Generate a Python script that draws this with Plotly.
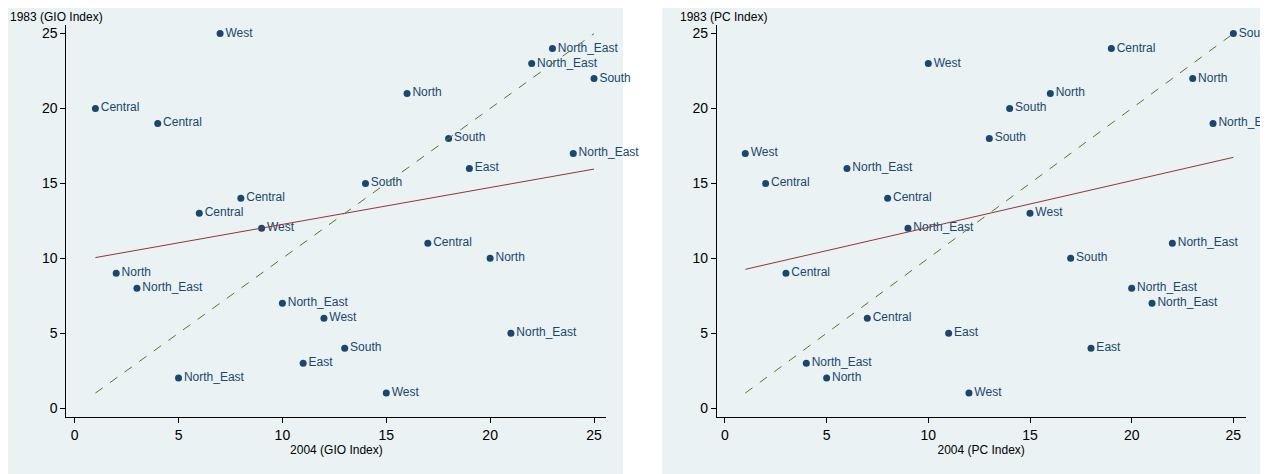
import numpy as np
import plotly.graph_objects as go
from plotly.subplots import make_subplots

# GIO index panel
gio_x = [7, 23, 22, 25, 16, 1, 4, 18, 24, 19, 14, 8, 6, 9, 17, 20, 2, 3, 10, 12, 21, 13, 11, 5, 15]
gio_y = [25, 24, 23, 22, 21, 20, 19, 18, 17, 16, 15, 14, 13, 12, 11, 10, 9, 8, 7, 6, 5, 4, 3, 2, 1]
gio_lab = ["West", "North_East", "North_East", "South", "North", "Central", "Central", "South",
           "North_East", "East", "South", "Central", "Central", "West", "Central", "North", "North",
           "North_East", "North_East", "West", "North_East", "South", "East", "North_East", "West"]

# PC index panel
pc_x = [25, 19, 10, 23, 16, 14, 24, 13, 1, 6, 2, 8, 15, 9, 22, 17, 3, 20, 21, 7, 11, 18, 4, 5, 12]
pc_y = [25, 24, 23, 22, 21, 20, 19, 18, 17, 16, 15, 14, 13, 12, 11, 10, 9, 8, 7, 6, 5, 4, 3, 2, 1]
pc_lab = ["South", "Central", "West", "North", "North", "South", "North_East", "South", "West",
          "North_East", "Central", "Central", "West", "North_East", "North_East", "South", "Central",
          "North_East", "North_East", "Central", "East", "East", "North_East", "North", "West"]

navy = "#1a476f"
fig = make_subplots(rows=1, cols=2)

for col, (x, y, lab, xt, yt) in enumerate([
        (gio_x, gio_y, gio_lab, "2004 (GIO Index)", "1983 (GIO Index)"),
        (pc_x, pc_y, pc_lab, "2004 (PC Index)", "1983 (PC Index)")], start=1):
    fig.add_trace(go.Scatter(x=x, y=y, mode="markers+text", text=lab, textposition="middle right",
                             textfont=dict(color=navy, size=12), cliponaxis=False,
                             marker=dict(color=navy, size=7)), row=1, col=col)
    b, a = np.polyfit(x, y, 1)
    fx = [min(x), max(x)]
    fig.add_trace(go.Scatter(x=fx, y=[a + b * v for v in fx], mode="lines",
                             line=dict(color="#90353b", width=1)), row=1, col=col)
    fig.add_trace(go.Scatter(x=fx, y=fx, mode="lines",
                             line=dict(color="#55752f", width=1, dash="dash")), row=1, col=col)
    ax = dict(showgrid=False, zeroline=False, showline=True, linecolor="black", ticks="outside",
              tickcolor="black", ticklen=5, tickfont=dict(size=14, color="black"),
              tickvals=[0, 5, 10, 15, 20, 25])
    fig.update_xaxes(range=[-0.4, 25.6], title=dict(text=xt, font=dict(size=12), standoff=2),
                     **ax, row=1, col=col)
    fig.update_yaxes(range=[-0.6, 25.6], **ax, row=1, col=col)
    fig.add_annotation(text=yt, xref="paper", yref="paper", x=[0.0, 0.528][col - 1], y=1.0,
                       xanchor="left", yanchor="top", showarrow=False, font=dict(size=12, color="black"))

fig.update_layout(xaxis=dict(domain=[0.046, 0.472]), xaxis2=dict(domain=[0.559, 0.976]),
                  yaxis=dict(domain=[0.137, 0.965]), yaxis2=dict(domain=[0.137, 0.965]))
for x0, x1 in [(0, 0.485), (0.516, 1)]:
    fig.add_shape(type="rect", xref="paper", yref="paper", x0=x0, x1=x1, y0=0.0, y1=1.0,
                  fillcolor="#eaf2f3", line_width=0, layer="below")
fig.update_layout(width=1268, height=474, showlegend=False, margin=dict(l=0, r=0, t=0, b=0),
                  paper_bgcolor="white", plot_bgcolor="white",
                  font=dict(family="Liberation Sans, Arial", color="black"))
fig.write_html("out.html")
